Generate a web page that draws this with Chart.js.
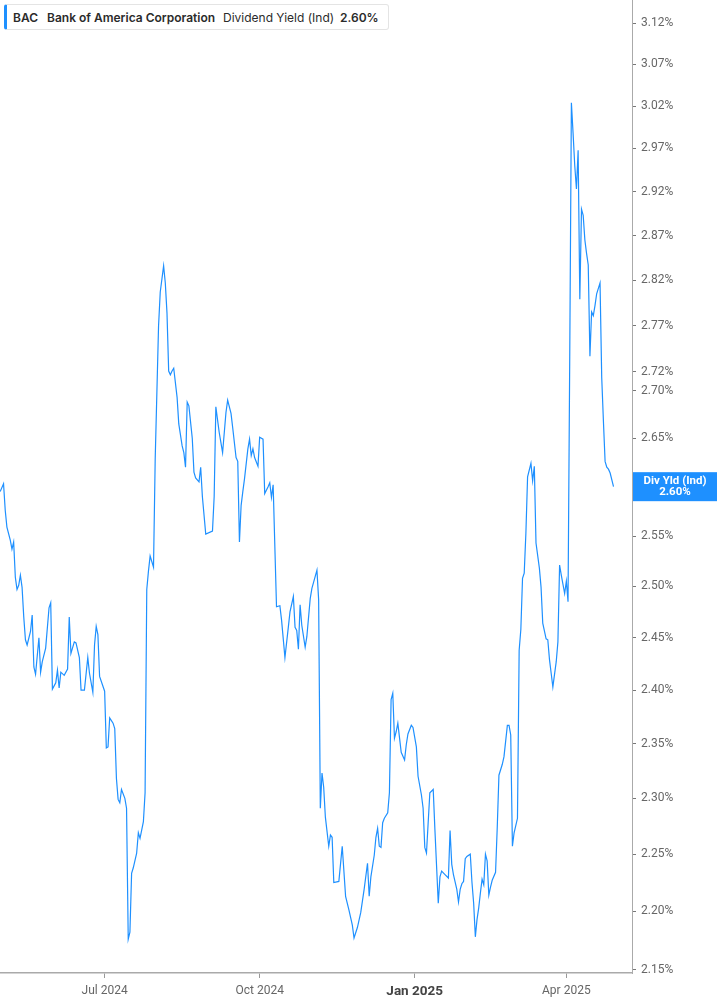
<!DOCTYPE html>
<html lang="en">
<head>
    <meta charset="UTF-8">
    <title>BAC Dividend Yield</title>

    <script src="https://cdn.jsdelivr.net/npm/chart.js"></script>

    <style>
        html, body { margin: 0; padding: 0; background: #fff; }
        #wrap { position: relative; width: 717px; height: 1005px; overflow: hidden; }
        #yieldChart { position: absolute; left: 0; top: 0; }
        #legend {
            position: absolute; left: 4px; top: 4px; width: 385px; height: 26px;
            box-sizing: border-box; background: #fff;
            border: 1px solid #e4e4e4; border-left: 3px solid #1e90ff; border-radius: 3px;
            font: 12px Inter, "Noto Sans", sans-serif; color: #2b2b2b;
            white-space: nowrap;
        }
        #legend span { position: absolute; top: 5px; }
        #legend .b { font-weight: 600; }
    </style>
</head>
<body>

    <div id="wrap">
        <canvas id="yieldChart" width="717" height="1005"></canvas>

        <div id="legend">
            <span class="b" style="left:6px">BAC</span>
            <span class="b" style="left:40px">Bank of America Corporation</span>
            <span style="left:216px">Dividend Yield (Ind)</span>
            <span class="b" style="left:333px">2.60%</span>
        </div>
    </div>

<script>
    // daily dividend yield (%), days counted from startDate
    const startDate = '2024-04-30';
    const dayOffsets = [
        0, 2, 3, 4, 6, 7, 8, 9, 10, 11, 12, 13, 14, 15, 16, 18, 19, 20, 21, 23,
        24, 25, 27, 29, 30, 31, 33, 34, 35, 36, 38, 40, 41, 42, 44, 45, 47, 48, 50, 52,
        53, 55, 56, 57, 58, 59, 62, 63, 64, 65, 67, 68, 69, 70, 71, 72, 74, 75, 76, 77,
        78, 79, 81, 82, 83, 85, 86, 87, 88, 89, 91, 92, 94, 95, 97, 98, 99, 100, 101, 102,
        103, 105, 106, 108, 109, 110, 111, 112, 114, 115, 116, 118, 119, 120, 122, 126, 127, 128, 130, 132,
        134, 135, 137, 138, 140, 141, 142, 143, 144, 145, 147, 148, 149, 150, 151, 153, 154, 156, 157, 159,
        160, 161, 162, 164, 166, 167, 169, 171, 172, 174, 175, 176, 177, 178, 179, 181, 182, 184, 185, 188,
        189, 190, 191, 192, 193, 195, 196, 197, 198, 201, 203, 205, 207, 209, 210, 212, 214, 216, 218, 219,
        220, 222, 223, 224, 225, 226, 227, 228, 230, 231, 232, 233, 234, 235, 236, 238, 240, 241, 242, 244,
        245, 247, 248, 250, 251, 252, 253, 254, 255, 257, 258, 260, 261, 262, 264, 266, 267, 268, 269, 271,
        272, 273, 274, 275, 276, 277, 279, 280, 281, 282, 283, 284, 285, 286, 287, 288, 289, 290, 291, 292,
        294, 295, 296, 298, 299, 301, 302, 303, 304, 305, 307, 308, 309, 310, 311, 312, 313, 315, 316, 317,
        318, 320, 321, 322, 324, 325, 326, 327, 328, 330, 331, 332, 333, 335, 336, 337, 338, 339, 340, 341,
        342, 343, 344, 345, 346, 347, 348, 349, 350, 351, 352, 353, 354, 356, 357, 358, 359, 360, 361, 362,
        364
    ];
    const yieldPct = [
        2.595, 2.603, 2.576, 2.559, 2.546, 2.537, 2.544, 2.509, 2.497, 2.501, 2.511, 2.499, 2.470, 2.448, 2.443, 2.456, 2.472, 2.422, 2.415, 2.450,
        2.417, 2.427, 2.440, 2.479, 2.484, 2.401, 2.407, 2.419, 2.402, 2.417, 2.414, 2.420, 2.470, 2.435, 2.446, 2.445, 2.431, 2.400, 2.400, 2.431,
        2.416, 2.398, 2.443, 2.461, 2.453, 2.413, 2.399, 2.346, 2.347, 2.374, 2.369, 2.364, 2.318, 2.299, 2.296, 2.308, 2.300, 2.291, 2.176, 2.182,
        2.233, 2.238, 2.251, 2.269, 2.264, 2.279, 2.305, 2.497, 2.515, 2.530, 2.519, 2.628, 2.770, 2.807, 2.836, 2.817, 2.784, 2.721, 2.717, 2.721,
        2.724, 2.693, 2.665, 2.642, 2.635, 2.620, 2.688, 2.684, 2.650, 2.615, 2.609, 2.605, 2.620, 2.590, 2.552, 2.555, 2.590, 2.683, 2.656, 2.635,
        2.677, 2.690, 2.676, 2.661, 2.630, 2.626, 2.544, 2.581, 2.595, 2.608, 2.639, 2.649, 2.632, 2.639, 2.630, 2.621, 2.651, 2.649, 2.593, 2.600,
        2.604, 2.589, 2.602, 2.480, 2.481, 2.467, 2.431, 2.460, 2.475, 2.490, 2.460, 2.457, 2.439, 2.482, 2.462, 2.441, 2.451, 2.488, 2.498, 2.516,
        2.487, 2.291, 2.323, 2.310, 2.283, 2.257, 2.267, 2.265, 2.225, 2.226, 2.257, 2.213, 2.201, 2.188, 2.177, 2.186, 2.199, 2.219, 2.242, 2.213,
        2.230, 2.249, 2.265, 2.273, 2.257, 2.256, 2.278, 2.282, 2.287, 2.305, 2.391, 2.397, 2.355, 2.361, 2.369, 2.342, 2.335, 2.349, 2.359, 2.367,
        2.365, 2.347, 2.320, 2.303, 2.291, 2.256, 2.251, 2.278, 2.305, 2.308, 2.272, 2.207, 2.230, 2.235, 2.232, 2.229, 2.271, 2.241, 2.232, 2.219,
        2.208, 2.219, 2.224, 2.226, 2.246, 2.248, 2.250, 2.225, 2.207, 2.178, 2.193, 2.203, 2.216, 2.228, 2.223, 2.250, 2.244, 2.214, 2.221, 2.227,
        2.234, 2.274, 2.321, 2.331, 2.338, 2.367, 2.367, 2.358, 2.257, 2.269, 2.282, 2.438, 2.458, 2.508, 2.513, 2.553, 2.610, 2.624, 2.606, 2.621,
        2.543, 2.518, 2.499, 2.464, 2.449, 2.448, 2.429, 2.416, 2.403, 2.427, 2.446, 2.521, 2.511, 2.493, 2.505, 2.485, 2.731, 3.024, 2.988, 2.950,
        2.923, 2.968, 2.799, 2.900, 2.893, 2.865, 2.850, 2.837, 2.737, 2.785, 2.781, 2.792, 2.805, 2.817, 2.714, 2.668, 2.626, 2.620, 2.618, 2.614,
        2.600
    ];

    // axis ticks (x in days from startDate: Jul 1, Oct 1, Jan 1, Apr 1)
    const xTickDays = [62, 154, 246, 336];
    const xTickLabels = ['Jul 2024', 'Oct 2024', 'Jan 2025', 'Apr 2025'];
    const yTicks = [2.15, 2.20, 2.25, 2.30, 2.35, 2.40, 2.45, 2.50, 2.55, 2.60, 2.65, 2.70,
                    2.72, 2.77, 2.82, 2.87, 2.92, 2.97, 3.02, 3.07, 3.12];

    const lineBlue = '#1e90ff';

    const points = dayOffsets.map((d, i) => ({ x: d, y: yieldPct[i] }));

    // blue box with the latest value on the right axis
    const lastValueBadge = {
        id: 'lastValueBadge',
        afterDraw(chart) {
            const ctx = chart.ctx;
            const last = yieldPct[yieldPct.length - 1];
            const y = chart.scales.y.getPixelForValue(last);
            const left = chart.chartArea.right + 1;
            const w = chart.width - left;
            ctx.save();
            ctx.fillStyle = lineBlue;
            ctx.fillRect(left, y - 14.5, w, 29);
            ctx.fillStyle = '#fff';
            ctx.textAlign = 'center';
            ctx.textBaseline = 'middle';
            ctx.font = 'bold 11.5px Roboto, sans-serif';
            ctx.fillText('Div Yld (Ind)', left + w / 2, y - 5.5);
            ctx.fillText(last.toFixed(2) + '%', left + w / 2, y + 5.5);
            ctx.restore();
        }
    };

    new Chart(document.getElementById('yieldChart'), {
        type: 'line',
        data: {
            datasets: [{
                data: points,
                borderColor: lineBlue,
                borderWidth: 1.2,
                pointRadius: 0,
                pointHoverRadius: 0,
                tension: 0,
                fill: false
            }]
        },
        options: {
            responsive: false,
            animation: false,
            layout: { padding: 0 },
            plugins: {
                legend: { display: false },
                tooltip: { enabled: false }
            },
            scales: {
                x: {
                    type: 'linear',
                    min: -0.1,
                    max: 374.97,
                    grid: { display: true, drawOnChartArea: false, tickLength: 5, color: '#999' },
                    border: { display: true, color: '#aaa', width: 1.5 },
                    ticks: {
                        autoSkip: false,
                        maxRotation: 0,
                        padding: 6,
                        color: ctx => ctx.index === 2 ? '#444' : '#666',
                        font: ctx => ctx.index === 2
                            ? { family: 'Roboto', size: 13.5, weight: 'bold' }
                            : { family: 'Roboto', size: 12 },
                        callback: (v, i) => xTickLabels[i]
                    },
                    afterBuildTicks: s => { s.ticks = xTickDays.map(v => ({ value: v })); },
                    afterFit: s => { s.height = 32; s.paddingLeft = 0; s.paddingRight = 0; }
                },
                y: {
                    type: 'logarithmic',
                    position: 'right',
                    min: 2.14723,
                    max: 3.14868,
                    grid: { display: true, drawOnChartArea: false, tickLength: 4, color: '#777' },
                    border: { display: true, color: '#aaa', width: 1 },
                    ticks: {
                        autoSkip: false,
                        padding: 5,
                        color: '#666',
                        font: { family: 'Roboto', size: 12 },
                        callback: v => Number(v).toFixed(2) + '%'
                    },
                    afterBuildTicks: s => { s.ticks = yTicks.map(v => ({ value: v })); },
                    afterFit: s => { s.width = 85; s.paddingTop = 0; s.paddingBottom = 0; }
                }
            }
        },
        plugins: [lastValueBadge]
    });
</script>
</body>
</html>
